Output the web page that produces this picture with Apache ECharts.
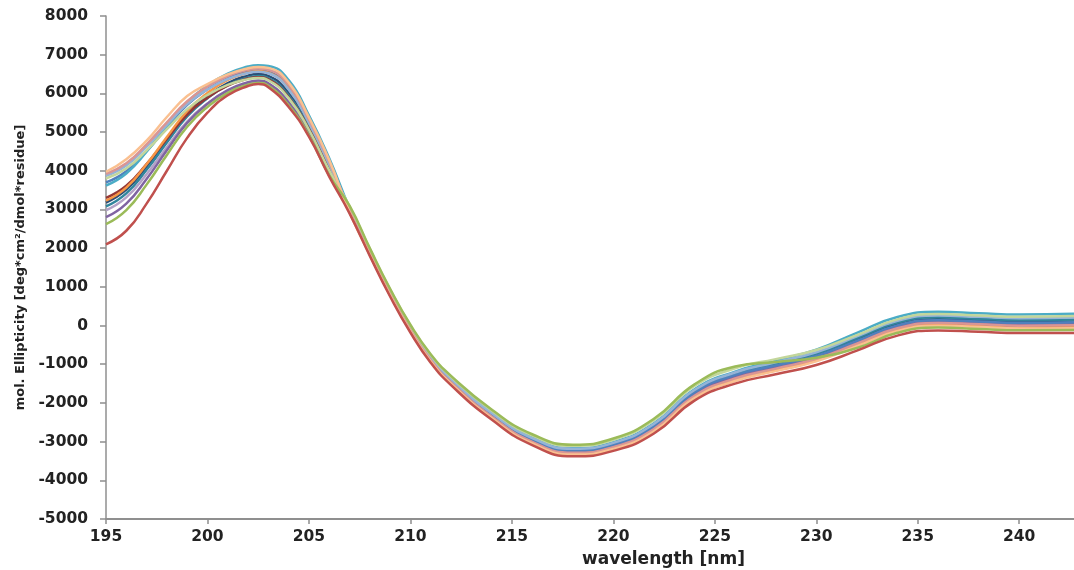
<!DOCTYPE html>
<html>
<head>
<meta charset="utf-8">
<script src="https://cdn.jsdelivr.net/npm/echarts@6/dist/echarts.min.js"></script>
<style>
  html, body { margin: 0; padding: 0; background: #ffffff; }
  #chart { width: 1074px; height: 570px; }
</style>
</head>
<body>
<div id="chart"></div>
<script>
// wavelength sample points [nm]
const wavelengths = [195,196,197,198,199,200,201,202,202.5,203,204,205,206,207,208,209,210,211,212,214,216,218,220,222,224,226,228,230,232,234,236,238,240,243];
const xTicks = [195,200,205,210,215,220,225,230,235,240];

// mol. ellipticity values, one array per spectrum
const red        = [2100,2450,3150,4000,4850,5500,5950,6190,6240,6160,5650,4880,3850,2900,1800,750,-180,-960,-1540,-2430,-3090,-3380,-3240,-2790,-1940,-1500,-1260,-1020,-650,-260,-125,-160,-195,-190];
const green      = [2620,2985,3642,4409,5139,5650,6015,6226,6270,6195,5694,4915,3880,3100,2000,950,20,-740,-1300,-2170,-2810,-3080,-2920,-2410,-1520,-1060,-943,-831,-581,-188,-53,-88,-123,-115];
const purple     = [2800,3153,3788,4530,5236,5730,6083,6288,6330,6260,5776,4980,3936,2980,1880,830,-100,-872,-1444,-2326,-2978,-3260,-3112,-2638,-1772,-1324,-1077,-829,-443,-44,91,56,21,35];
const blue       = [3700,3990,4512,5121,5701,6107,6397,6565,6600,6560,6154,5280,4194,3000,1900,850,-80,-850,-1420,-2300,-2950,-3230,-3080,-2600,-1730,-1280,-1033,-785,-397,4,139,104,69,85];
const aqua       = [3620,3931,4491,5144,5766,6201,6512,6693,6730,6710,6343,5430,4323,3040,1940,890,-40,-806,-1372,-2248,-2894,-3170,-3016,-2524,-1646,-1192,-908,-624,-190,220,355,320,285,310];
const orange     = [3230,3565,4168,4872,5542,6011,6346,6540,6580,6535,6123,5255,4173,2950,1850,800,-130,-905,-1480,-2365,-3020,-3305,-3160,-2695,-1835,-1390,-1143,-895,-512,-116,19,-16,-51,-40];
const darkBlue   = [3180,3512,4110,4807,5471,5936,6268,6460,6500,6450,6015,5170,4099,2990,1890,840,-90,-861,-1432,-2313,-2964,-3245,-3096,-2619,-1751,-1302,-1040,-778,-374,28,163,128,93,110];
const darkRed    = [3300,3612,4174,4829,5453,5890,6202,6383,6420,6360,5902,5080,4022,2940,1840,790,-140,-916,-1492,-2378,-3034,-3320,-3176,-2714,-1856,-1412,-1150,-888,-489,-92,43,8,-27,-15];
const darkTeal   = [3080,3417,4024,4731,5405,5877,6214,6410,6450,6395,5946,5115,4052,3020,1920,870,-60,-828,-1396,-2274,-2922,-3200,-3048,-2562,-1688,-1236,-981,-727,-328,76,211,176,141,160];
const lightBlue  = [3870,4139,4623,5188,5726,6103,6372,6528,6560,6520,6104,5240,4160,3030,1930,880,-50,-817,-1384,-2261,-2908,-3185,-3032,-2543,-1667,-1214,-952,-690,-282,124,259,224,189,210];
const pink       = [3920,4192,4682,5253,5797,6178,6450,6607,6640,6610,6217,5330,4237,2960,1860,810,-120,-894,-1468,-2352,-3006,-3290,-3144,-2676,-1814,-1368,-1113,-859,-466,-68,67,32,-3,10];
const lightGreen = [3800,4060,4528,5074,5594,5958,6218,6369,6400,6340,5877,5060,4005,3080,1980,930,0,-762,-1324,-2196,-2838,-3110,-2952,-2448,-1562,-1104,-868,-631,-247,160,295,260,225,248];
const lavender   = [2980,3312,3910,4607,5271,5736,6068,6260,6300,6225,5732,4945,3906,2970,1870,820,-110,-883,-1456,-2339,-2992,-3275,-3128,-2657,-1793,-1346,-1084,-822,-420,-20,115,80,45,60];
const lightOrange= [3970,4300,4780,5390,5930,6240,6490,6650,6685,6660,6280,5380,4280,2930,1830,780,-150,-927,-1504,-2391,-3048,-3335,-3192,-2733,-1877,-1434,-1179,-925,-535,-140,-5,-40,-75,-65];

const spectra = [
  { name: 'darkBlue', values: darkBlue, color: '#2C4D75' },
  { name: 'darkTeal', values: darkTeal, color: '#31859C' },
  { name: 'darkRed', values: darkRed, color: '#953735' },
  { name: 'lavender', values: lavender, color: '#B3A2C7' },
  { name: 'purple', values: purple, color: '#8064A2' },
  { name: 'blue', values: blue, color: '#4F81BD' },
  { name: 'orange', values: orange, color: '#F79646' },
  { name: 'aqua', values: aqua, color: '#4BACC6' },
  { name: 'lightBlue', values: lightBlue, color: '#95B3D7' },
  { name: 'lightGreen', values: lightGreen, color: '#C3D69B' },
  { name: 'pink', values: pink, color: '#D99694' },
  { name: 'lightOrange', values: lightOrange, color: '#FAC090' },
  { name: 'green', values: green, color: '#9BBB59' },
  { name: 'red', values: red, color: '#C0504D' }
];

const chart = echarts.init(document.getElementById('chart'), null, { renderer: 'canvas' });
const labelFont = 'DejaVu Sans';
chart.setOption({
  animation: false,
  backgroundColor: '#ffffff',
  grid: { left: 106, right: 0, top: 16, bottom: 51, containLabel: false },
  xAxis: {
    type: 'value', min: 195, max: 242.7, interval: 5,
    axisLine: { show: true, onZero: false, lineStyle: { color: '#8f8f8f', width: 2 } },
    axisTick: { show: true, length: 5, customValues: xTicks, lineStyle: { color: '#8f8f8f', width: 1.5 } },
    axisLabel: { customValues: xTicks, margin: 10, fontFamily: labelFont, fontWeight: 'bold', fontSize: 15.5, color: '#222' },
    splitLine: { show: false }
  },
  yAxis: {
    type: 'value', min: -5000, max: 8000, interval: 1000,
    name: 'mol. Ellipticity [deg*cm²/dmol*residue]',
    nameLocation: 'middle', nameRotate: 90, nameGap: 78,
    nameTextStyle: { fontFamily: labelFont, fontWeight: 'bold', fontSize: 13, color: '#222' },
    axisLine: { show: true, lineStyle: { color: '#8f8f8f', width: 1.5 } },
    axisTick: { show: true, length: 6, lineStyle: { color: '#8f8f8f', width: 1.5 } },
    axisLabel: { margin: 18, fontFamily: labelFont, fontWeight: 'bold', fontSize: 15.5, color: '#222',
                 formatter: v => String(v) },
    splitLine: { show: false }
  },
  graphic: [{
    type: 'text', left: 582, top: 551,
    style: { text: 'wavelength [nm]', font: 'bold 17px "DejaVu Sans"', fill: '#222' }
  }],
  series: spectra.map(s => ({
    name: s.name,
    type: 'line',
    smooth: 0.5,
    showSymbol: false,
    clip: true,
    lineStyle: { width: 2.5, color: s.color },
    itemStyle: { color: s.color },
    data: wavelengths.map((w, i) => [w, s.values[i]])
  }))
});
</script>
</body>
</html>
